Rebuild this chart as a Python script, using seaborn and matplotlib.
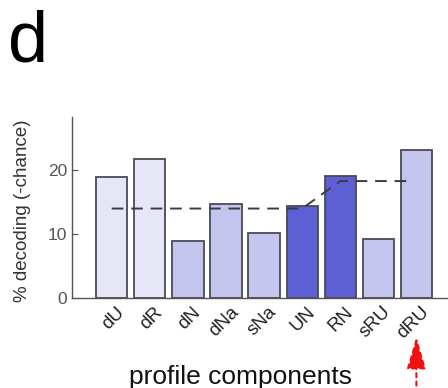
import seaborn as sns
import numpy as np
import pandas as pd
import matplotlib
matplotlib.use("Agg")
import matplotlib.pyplot as plt
import matplotlib.transforms as mtransforms

sns.set_style("ticks")
plt.rcParams['font.family'] = ['Liberation Sans', 'DejaVu Sans']

components = ['dU', 'dR', 'dN', 'dNa', 'sNa', 'UN', 'RN', 'sRU', 'dRU']
decoding = [19.0, 21.7, 8.9, 14.7, 10.2, 14.4, 19.1, 9.3, 23.2]
shade = ['light', 'light', 'mid', 'mid', 'mid', 'dark', 'dark', 'mid', 'mid']
shade_colors = {'light': '#e6e6f7', 'mid': '#c4c5ee', 'dark': '#5d60d4'}

# dashed reference line (index positions along the bars)
ref_x = [0, 5, 6, 7.8]
ref_y = [14.0, 14.0, 18.3, 18.3]

df = pd.DataFrame({'comp': components, 'val': decoding, 'shade': shade})

fig = plt.figure(figsize=(4.48, 3.88), dpi=100)
ax = fig.add_axes([0.161, 0.232, 0.839, 0.466])

sns.barplot(data=df, x='comp', y='val', hue='shade', palette=shade_colors,
            dodge=False, width=0.82, edgecolor='#4a4a55', linewidth=1.3,
            legend=False, ax=ax, saturation=1)

ax.plot(ref_x, ref_y, linestyle=(0, (6, 4)), color='#3a3a48', lw=1.4, zorder=3)

ax.set_xlim(-1.04, 8.83)
ax.set_ylim(0, 28.3)
ax.set_yticks([0, 10, 20])
ax.tick_params(axis='y', direction='in', length=4, colors='#555555', labelsize=12.5)
ax.tick_params(axis='x', length=0, labelsize=13.5, pad=4)
ax.set_xticks(range(len(components)))
ax.set_xticklabels(components, rotation=45, ha='right', rotation_mode='anchor')
shift = mtransforms.ScaledTranslation(4 / 100, 0, fig.dpi_scale_trans)
for t in ax.get_xticklabels():
    t.set_color('#222222')
    t.set_transform(t.get_transform() + shift)
for t in ax.get_yticklabels():
    t.set_color('#555555')
sns.despine(ax=ax, top=True, right=True)
ax.spines['left'].set_color('#555555')
ax.spines['bottom'].set_color('#555555')
ax.spines['left'].set_linewidth(1.0)
ax.spines['bottom'].set_linewidth(1.0)

ax.set_ylabel('% decoding (-chance)', fontsize=13.5, color='#333333')
ax.yaxis.set_label_coords(-0.11, 0.48)
ax.set_xlabel('profile components', fontsize=19, color='#111111', va='center')
ax.xaxis.set_label_coords(0.447, -0.436)

fig.text(0.018, 0.975, 'd', fontsize=52, va='top', ha='left', color='black')

# red dashed arrow under the last component
ax.annotate('', xy=(8, -0.2), xycoords=('data', 'axes fraction'),
            xytext=(8, -0.5), textcoords=('data', 'axes fraction'),
            arrowprops=dict(arrowstyle='-|>,head_length=2.0,head_width=0.6',
                            color='#ee1111', lw=1.5, linestyle=(0, (2, 2))),
            annotation_clip=False)

fig.savefig('out.png', dpi=100)
